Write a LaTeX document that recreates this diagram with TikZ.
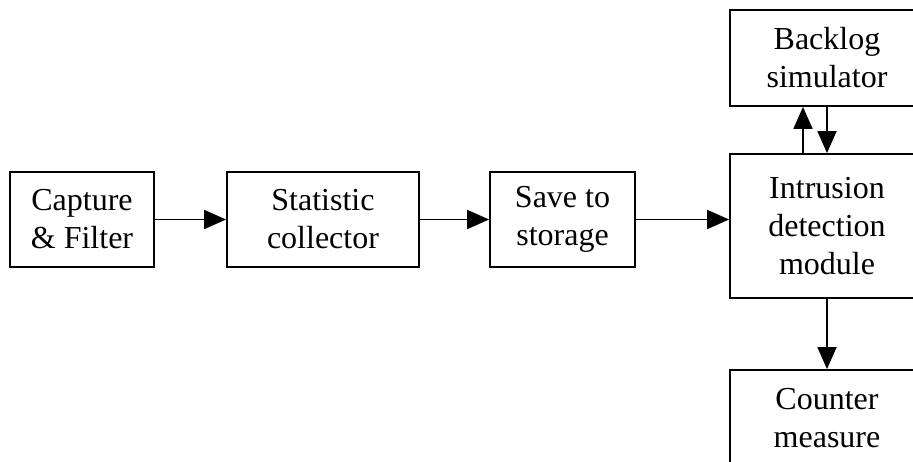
\documentclass[tikz,border=0pt]{standalone}
\usepackage{fontspec}
\setmainfont{Liberation Serif}
\usetikzlibrary{arrows.meta}
\begin{document}
\begin{tikzpicture}[x=1pt,y=1pt,
  box/.style={draw,line width=1.8pt,inner sep=0pt,align=center,
    font=\fontsize{32}{38}\selectfont},
  arr/.style={line width=1.8pt,-{Triangle[length=22pt,width=19pt]}}]
\useasboundingbox (0,0) rectangle (913,461);
\clip (0,0) rectangle (913,461);
\fill[white] (0,0) rectangle (913,461);
\node[box,minimum width=144pt,minimum height=95pt] (cap) at (82,241.5) {Capture\\\& Filter};
\node[box,minimum width=192pt,minimum height=95pt] (stat) at (323,241.5) {Statistic\\collector};
\node[box,minimum width=145pt,minimum height=95pt] (save) at (562.5,241.5) {Save to\\storage};
\node[box,minimum width=194pt,minimum height=144pt] (ids) at (827,235) {Intrusion\\detection\\module};
\node[box,minimum width=194pt,minimum height=96pt] (back) at (827,403) {Backlog\\simulator};
\node[box,minimum width=194pt,minimum height=96pt] (cnt) at (827,43) {Counter\\measure};
\draw[arr] (cap.east) -- (stat.west);
\draw[arr] (stat.east) -- (save.west);
\draw[arr] (save.east) -- (ids.west |- save.east);
\draw[arr] (ids.north -| 803,0) -- (back.south -| 803,0);
\draw[arr] (back.south) -- (ids.north);
\draw[arr] (ids.south) -- (cnt.north);
\end{tikzpicture}
\end{document}
